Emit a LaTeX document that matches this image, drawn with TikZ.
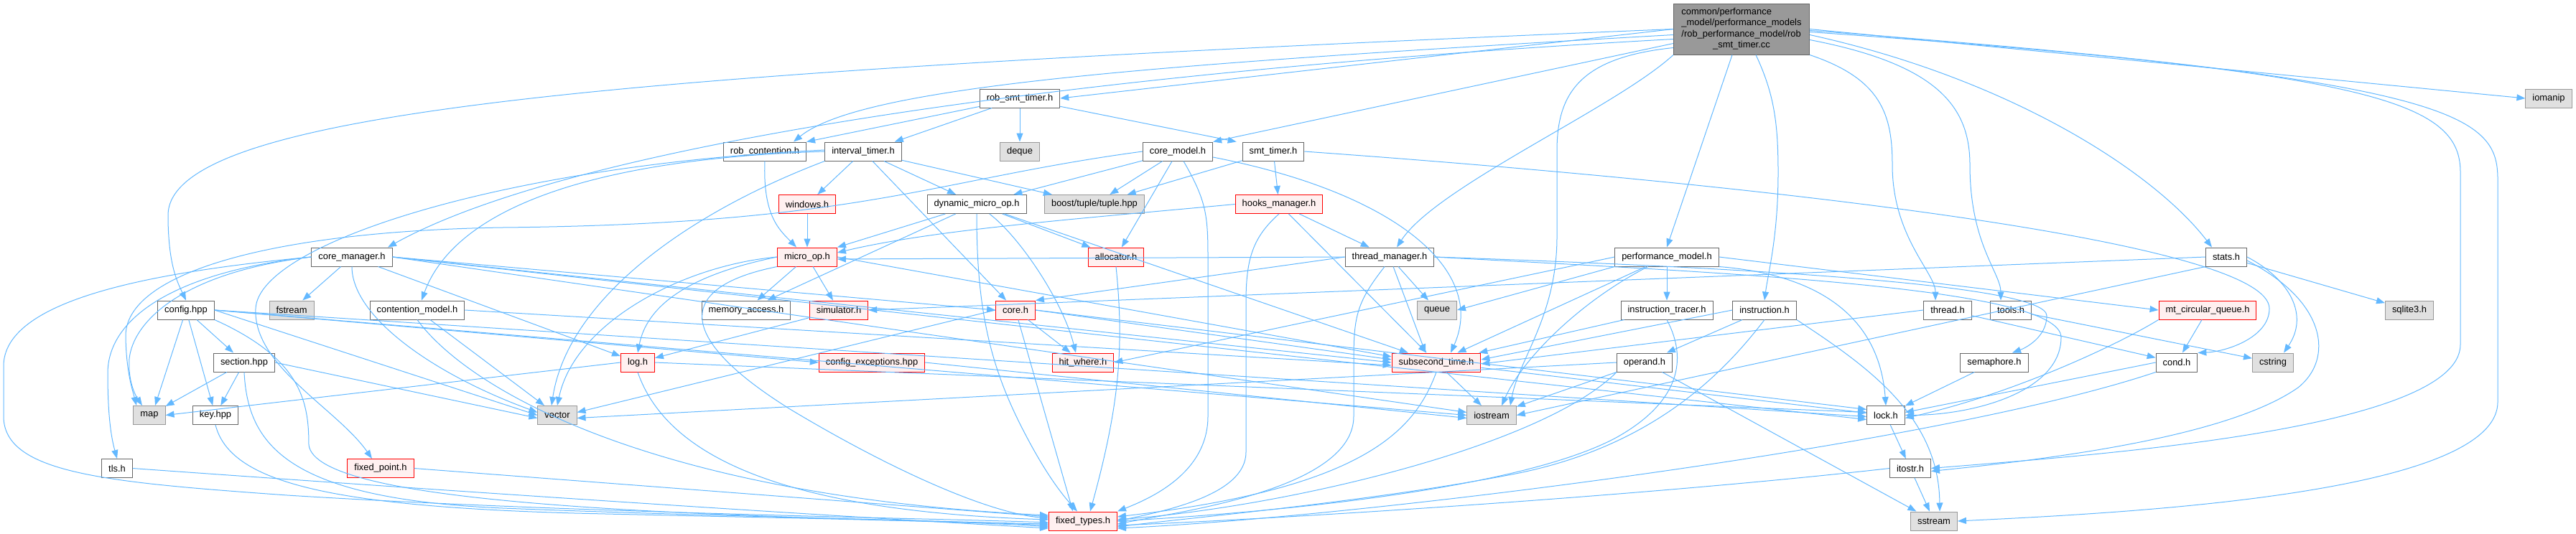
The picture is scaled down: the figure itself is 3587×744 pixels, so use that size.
\documentclass[tikz,border=0pt]{standalone}
\usepackage{fontspec}
\setmainfont{Liberation Sans}
\usetikzlibrary{arrows.meta}
\definecolor{Edge}{HTML}{63B8FF}
\definecolor{Frame}{HTML}{666666}
\definecolor{SysFill}{HTML}{E0E0E0}
\definecolor{SysLine}{HTML}{999999}
\definecolor{TruncFill}{HTML}{FFF0F0}
\definecolor{TruncLine}{HTML}{FF0000}
\definecolor{RootFill}{HTML}{999999}
\begin{document}
\begin{tikzpicture}[x=1pt,y=-1pt,>={Triangle[length=12pt,width=9pt]},
  hdr/.style={draw=Frame,fill=white,line width=1pt,minimum height=26pt,inner xsep=9.5pt,inner ysep=0pt,font=\fontsize{12.9}{15.3}\selectfont},
  sysinc/.style={hdr,draw=SysLine,fill=SysFill},
  trunc/.style={hdr,draw=TruncLine,fill=TruncFill},
  srcfile/.style={hdr,fill=RootFill,minimum width=189pt,minimum height=71pt},
  inc/.style={->,draw=Edge,line width=1pt}]
\useasboundingbox (0,0) rectangle (3587,744);
\node[srcfile] (root) at (2425,40.5) {\begin{tabular}{@{}l@{}}common/performance\\\_model/performance\_models\\/rob\_performance\_model/rob\\\multicolumn{1}{@{}c@{}}{\_smt\_timer.cc}\end{tabular}};
\node[hdr] (robsmt) at (1420,137) {rob\_smt\_timer.h};
\node[sysinc] (iomanip) at (3549,137) {iomanip};
\node[hdr] (robcont) at (1065,211) {rob\_contention.h};
\node[hdr] (intv) at (1202,211) {interval\_timer.h};
\node[sysinc] (deque) at (1420,211) {deque};
\node[hdr] (coremodel) at (1640,211) {core\_model.h};
\node[hdr] (smt) at (1773,211) {smt\_timer.h};
\node[trunc] (windows) at (1124,284.5) {windows.h};
\node[hdr] (dynuop) at (1360,284.5) {dynamic\_micro\_op.h};
\node[sysinc] (boost) at (1524,284.5) {boost/tuple/tuple.hpp};
\node[trunc] (hooks) at (1781,284.5) {hooks\_manager.h};
\node[hdr] (coremgr) at (490,358) {core\_manager.h};
\node[trunc] (microop) at (1124,358) {micro\_op.h};
\node[trunc] (alloc) at (1554,358) {allocator.h};
\node[hdr] (threadmgr) at (1935,358) {thread\_manager.h};
\node[hdr] (perfmodel) at (2321,358) {performance\_model.h};
\node[hdr] (stats) at (3100,358) {stats.h};
\node[hdr] (config) at (259,432) {config.hpp};
\node[sysinc] (fstream) at (406,432) {fstream};
\node[hdr] (contention) at (581,432) {contention\_model.h};
\node[hdr] (memacc) at (1039,432) {memory\_access.h};
\node[trunc] (simulator) at (1168,432) {simulator.h};
\node[trunc] (core) at (1414,432) {core.h};
\node[sysinc] (queue) at (2001,432) {queue};
\node[hdr] (insttracer) at (2321,432) {instruction\_tracer.h};
\node[hdr] (instruction) at (2457,432) {instruction.h};
\node[hdr] (thread) at (2712,432) {thread.h};
\node[hdr] (tools) at (2800,432) {tools.h};
\node[trunc] (mtcq) at (3074,432) {mt\_circular\_queue.h};
\node[sysinc] (sqlite) at (3355,432) {sqlite3.h};
\node[hdr] (section) at (340,505) {section.hpp};
\node[trunc] (logh) at (888,505) {log.h};
\node[trunc] (cfgexc) at (1214,505) {config\_exceptions.hpp};
\node[trunc] (hitwhere) at (1508,505) {hit\_where.h};
\node[trunc] (subsec) at (2000,505) {subsecond\_time.h};
\node[hdr] (operand) at (2290,505) {operand.h};
\node[hdr] (semaphore) at (2777,505) {semaphore.h};
\node[hdr] (cond) at (3031,505) {cond.h};
\node[sysinc] (cstring) at (3165,505) {cstring};
\node[sysinc] (map) at (208,578.5) {map};
\node[hdr] (key) at (300,578.5) {key.hpp};
\node[sysinc] (vector) at (776,578.5) {vector};
\node[sysinc] (iostream) at (2077,578.5) {iostream};
\node[hdr] (lock) at (2626,578.5) {lock.h};
\node[hdr] (tls) at (163,652.5) {tls.h};
\node[trunc] (fixedpt) at (530,652.5) {fixed\_point.h};
\node[hdr] (itostr) at (2660,652.5) {itostr.h};
\node[trunc] (fixedtypes) at (1508,726) {fixed\_types.h};
\node[sysinc] (sstream) at (2693,726) {sstream};
\draw[inc] (root.west) .. controls (900,100) and (234,150) .. (234,300) .. controls (234,370) and (248,395) .. (config.north);
\draw[inc] (root.west) -- (robsmt.east);
\draw[inc] ([yshift=-8]root.west) .. controls (1600,90) and (1200,120) .. ([xshift=40]robcont.north);
\draw[inc] ([yshift=-14]root.west) .. controls (1500,100) and (800,200) .. ([xshift=50]coremgr.north);
\draw[inc] ([yshift=-20]root.west) -- (coremodel.north east);
\draw[inc] (root.south west) .. controls (2250,150) and (2000,260) .. ([xshift=10]threadmgr.north);
\draw[inc] ([xshift=-13]root.south) -- (perfmodel.north);
\draw[inc] ([xshift=20]root.south) .. controls (2470,130) and (2476,170) .. (2476,240) .. controls (2476,330) and (2462,380) .. (instruction.north);
\draw[inc] (root.south east) .. controls (2620,110) and (2635,160) .. (2635,230) .. controls (2635,330) and (2695,380) .. ([xshift=-17]thread.north);
\draw[inc] ([yshift=-15]root.east) .. controls (2700,90) and (2743,150) .. (2743,230) .. controls (2743,340) and (2786,380) .. ([xshift=-14]tools.north);
\draw[inc] ([yshift=-8]root.east) .. controls (2800,110) and (3000,240) .. ([xshift=-20]stats.north);
\draw[inc] (root.east) -- (iomanip.west);
\draw[inc] ([yshift=-4]root.east) .. controls (3300,100) and (3426,140) .. (3426,240) -- (3426,480) .. controls (3426,600) and (2900,635) .. (itostr.east);
\draw[inc] ([yshift=-2]root.east) .. controls (3420,110) and (3478,160) .. (3478,250) -- (3478,560) .. controls (3478,690) and (2950,715) .. (sstream.east);
\draw[inc] ([yshift=10]root.south west) .. controls (2200,80) and (2168,130) .. (2168,210) -- (2168,330) .. controls (2168,440) and (2115,500) .. ([xshift=26]iostream.north);
\draw[inc] (robsmt) -- (robcont.north east);
\draw[inc] (robsmt) -- ([xshift=-10]intv.north east);
\draw[inc] (robsmt) -- (deque);
\draw[inc] (robsmt) -- ([xshift=-8]smt.north west);
\draw[inc] (robcont.south) .. controls (1062,300) and (1085,320) .. ([xshift=-15]microop.north);
\draw[inc] (intv) -- (windows);
\draw[inc] (intv) -- (dynuop);
\draw[inc] (intv) -- (core);
\draw[inc] (intv) -- (boost);
\draw[inc] (intv.south west) .. controls (950,300) and (790,420) .. ([xshift=-8]vector.north);
\draw[inc] (intv.west) .. controls (800,222) and (630,300) .. ([xshift=6]contention.north);
\draw[inc] ([yshift=2]intv.west) .. controls (700,230) and (360,340) .. (356,430) .. controls (352,510) and (470,570) .. ([xshift=-12]fixedpt.north);
\draw[inc] (windows) -- (microop);
\draw[inc] (coremodel) -- (boost);
\draw[inc] (coremodel) -- (dynuop);
\draw[inc] (coremodel) -- (alloc);
\draw[inc] ([xshift=8]coremodel.south) .. controls (1680,280) and (1682,300) .. (1682,360) -- (1682,580) .. controls (1682,660) and (1600,695) .. (fixedtypes.north east);
\draw[inc] ([yshift=-8]coremodel.east) .. controls (1950,270) and (2070,380) .. ([xshift=20]subsec.north);
\draw[inc] (coremodel.west) .. controls (1300,250) and (1200,312) .. (700,317) .. controls (380,322) and (172,380) .. (175,470) .. controls (176,520) and (185,545) .. ([xshift=-18]map.north);
\draw[inc] (smt) -- (boost);
\draw[inc] (smt) -- (hooks);
\draw[inc] (smt.east) .. controls (2500,260) and (3160,340) .. (3160,430) .. controls (3160,470) and (3100,490) .. (cond.north east);
\draw[inc] (dynuop) -- (microop.north east);
\draw[inc] (dynuop) -- (memacc);
\draw[inc] (dynuop) .. controls (1420,330) and (1480,420) .. ([xshift=-10]hitwhere.north);
\draw[inc] (dynuop.south) .. controls (1360,420) and (1375,500) .. (1420,590) .. controls (1455,660) and (1480,690) .. ([xshift=-8]fixedtypes.north);
\draw[inc] (dynuop) -- (alloc);
\draw[inc] (dynuop) -- (subsec);
\draw[inc] (hooks) -- (threadmgr);
\draw[inc] (hooks) -- (subsec);
\draw[inc] (hooks.south) .. controls (1745,330) and (1735,360) .. (1735,420) -- (1735,630) .. controls (1735,690) and (1620,712) .. (fixedtypes.east);
\draw[inc] (hooks.west) .. controls (1500,305) and (1300,320) .. ([yshift=6]microop.east);
\draw[inc] (microop) -- (memacc);
\draw[inc] (microop) -- (simulator);
\draw[inc] (microop.west) .. controls (950,370) and (800,450) .. (vector.north);
\draw[inc] (microop.west) .. controls (950,385) and (900,430) .. (logh.north);
\draw[inc] (microop.south west) .. controls (940,400) and (940,470) .. (1100,570) .. controls (1250,660) and (1380,715) .. ([yshift=4]fixedtypes.west);
\draw[inc] (microop.east) -- ([yshift=8]subsec.west);
\draw[inc] (alloc.south) .. controls (1565,480) and (1560,560) .. ([xshift=10]fixedtypes.north);
\draw[inc] (threadmgr) -- (queue);
\draw[inc] (threadmgr) -- ([xshift=-15]subsec.north);
\draw[inc] ([xshift=-7]threadmgr.south) .. controls (1890,420) and (1885,440) .. (1885,500) -- (1885,580) .. controls (1885,680) and (1650,712) .. ([yshift=-4]fixedtypes.east);
\draw[inc] (threadmgr.west) -- ([yshift=-3]microop.east);
\draw[inc] (threadmgr.west) -- (core.north east);
\draw[inc] (threadmgr.east) .. controls (2400,380) and (2870,400) .. (2870,470) .. controls (2870,545) and (2750,578) .. (lock.east);
\draw[inc] (threadmgr.east) .. controls (2500,375) and (2850,400) .. (2850,440) .. controls (2850,470) and (2820,485) .. ([xshift=25]semaphore.north);
\draw[inc] (perfmodel) -- (insttracer);
\draw[inc] (perfmodel) .. controls (2200,420) and (2120,500) .. ([xshift=14]iostream.north);
\draw[inc] (perfmodel) -- (subsec);
\draw[inc] (perfmodel.south west) -- (queue.east);
\draw[inc] (perfmodel.west) -- (hitwhere.east);
\draw[inc] (perfmodel.south east) .. controls (2500,380) and (2615,420) .. (lock.north);
\draw[inc] (perfmodel.east) -- (mtcq.west);
\draw[inc] (insttracer) -- (subsec);
\draw[inc] (insttracer.south) .. controls (2350,500) and (2340,560) .. (2250,610) .. controls (2100,690) and (1700,718) .. (fixedtypes.east);
\draw[inc] (instruction.west) -- ([yshift=4]subsec.east);
\draw[inc] (instruction) -- (operand);
\draw[inc] (instruction.south) .. controls (2400,520) and (2300,625) .. (2100,662) .. controls (1900,700) and (1650,722) .. ([yshift=-8]fixedtypes.east);
\draw[inc] (instruction.south east) .. controls (2600,510) and (2700,580) .. ([xshift=8]sstream.north);
\draw[inc] (operand) -- (iostream);
\draw[inc] (operand.west) -- ([yshift=-4]vector.east);
\draw[inc] (operand.south west) .. controls (2150,620) and (1800,705) .. ([yshift=2]fixedtypes.east);
\draw[inc] (operand) -- (sstream);
\draw[inc] (thread) -- (cond);
\draw[inc] (thread.west) -- ([yshift=-2]subsec.east);
\draw[inc] (tools) -- (cstring);
\draw[inc] (stats) -- (sqlite);
\draw[inc] (stats.east) .. controls (3190,390) and (3215,440) .. ([xshift=15]cstring.north);
\draw[inc] (stats.west) -- (simulator.east);
\draw[inc] (stats.south west) -- (iostream.east);
\draw[inc] ([yshift=-5]stats.east) .. controls (3240,420) and (3250,500) .. (3200,540) .. controls (3100,610) and (2850,640) .. ([yshift=-4]itostr.east);
\draw[inc] (mtcq) -- (cond);
\draw[inc] (mtcq.south west) .. controls (2950,480) and (2800,550) .. ([yshift=-4]lock.east);
\draw[inc] (semaphore) -- (lock);
\draw[inc] (cond.west) -- ([yshift=4]lock.east);
\draw[inc] (cond.south west) .. controls (2700,620) and (1900,720) .. ([yshift=-10]fixedtypes.east);
\draw[inc] (lock) -- (itostr);
\draw[inc] (itostr) -- (sstream);
\draw[inc] (itostr.west) .. controls (2300,690) and (1800,722) .. ([yshift=-6]fixedtypes.east);
\draw[inc] (subsec) -- (iostream);
\draw[inc] (subsec.south) .. controls (1970,600) and (1900,680) .. ([yshift=6]fixedtypes.east);
\draw[inc] (subsec) -- (lock);
\draw[inc] (simulator) -- (logh);
\draw[inc] (logh.west) -- (map.east);
\draw[inc] (logh.south) .. controls (930,640) and (1100,712) .. ([yshift=2]fixedtypes.west);
\draw[inc] (logh.east) -- ([yshift=4]lock.west);
\draw[inc] (cfgexc.east) -- ([yshift=-4]iostream.west);
\draw[inc] (core) -- (hitwhere);
\draw[inc] (core) -- ([xshift=-14]fixedtypes.north);
\draw[inc] (core.east) -- ([yshift=4]subsec.west);
\draw[inc] (core.east) -- ([yshift=8]lock.west);
\draw[inc] (core.west) -- ([yshift=4]vector.east);
\draw[inc] (coremgr) -- (fstream);
\draw[inc] (coremgr.west) .. controls (250,380) and (185,450) .. (180,500) .. controls (178,530) and (188,550) .. ([xshift=-10]map.north);
\draw[inc] (coremgr.west) .. controls (250,378) and (150,440) .. (150,520) .. controls (150,580) and (155,610) .. (tls.north);
\draw[inc] (coremgr.west) .. controls (200,380) and (5,420) .. (5,510) -- (5,580) .. controls (5,660) and (150,672) .. (400,690) .. controls (800,715) and (1300,722) .. ([yshift=-2]fixedtypes.west);
\draw[inc] (coremgr.south) .. controls (490,440) and (600,520) .. ([yshift=4]vector.west);
\draw[inc] (coremgr) -- (logh);
\draw[inc] (coremgr.east) -- (core.west);
\draw[inc] (coremgr.east) -- (subsec.west);
\draw[inc] (coremgr.east) -- ([yshift=-6]lock.west);
\draw[inc] (coremgr.east) -- ([yshift=4]iostream.west);
\draw[inc] (config) -- ([xshift=8]map.north);
\draw[inc] (config) -- (key);
\draw[inc] (config) -- (section);
\draw[inc] (config.south east) .. controls (420,500) and (430,560) .. (430,620) .. controls (440,700) and (900,718) .. ([yshift=-4]fixedtypes.west);
\draw[inc] (config.east) -- (cfgexc.west);
\draw[inc] (config.east) -- (vector.west);
\draw[inc] (config.east) -- (iostream.west);
\draw[inc] (config.east) -- ([yshift=-2]lock.west);
\draw[inc] (section) -- (map);
\draw[inc] (section) -- (key);
\draw[inc] (section.south) .. controls (345,620) and (400,695) .. (700,708) .. controls (1000,720) and (1300,724) .. ([yshift=-6]fixedtypes.west);
\draw[inc] (section.east) -- ([yshift=-4]vector.west);
\draw[inc] (key.south) .. controls (320,670) and (450,705) .. (800,715) .. controls (1100,722) and (1350,726) .. ([yshift=-8]fixedtypes.west);
\draw[inc] (tls.east) .. controls (400,668) and (1000,710) .. ([yshift=-10]fixedtypes.west);
\draw[inc] (fixedpt.east) -- ([yshift=6]fixedtypes.west);
\draw[inc] (contention.east) -- ([yshift=-4]subsec.west);
\draw[inc] (contention) -- (vector);
\draw[inc] (contention.south) .. controls (650,540) and (900,690) .. ([yshift=8]fixedtypes.west);
\end{tikzpicture}
\end{document}
